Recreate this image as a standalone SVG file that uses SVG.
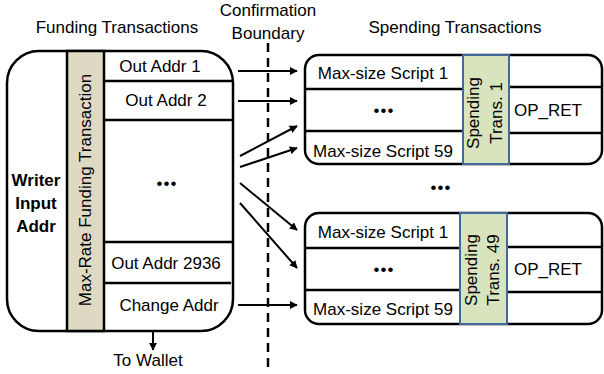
<svg xmlns="http://www.w3.org/2000/svg" width="604" height="374" viewBox="0 0 604 374">
<defs>
<style>
text{font-family:"Liberation Sans",Arial,sans-serif;font-size:17px;fill:#000;text-anchor:middle}
.b{font-weight:bold}
.d{font-size:17px;letter-spacing:1px}
.box{fill:#fff;stroke:#000;stroke-width:2.5}
.ln{stroke:#000;stroke-width:2.5;fill:none}
.arr{stroke:#000;stroke-width:2;fill:none;marker-end:url(#ah)}
.beige{fill:#ddd9c3;stroke:#000;stroke-width:2.5}
.green{fill:#d7e4bd;stroke:#41699c;stroke-width:2}
</style>
<marker id="ah" viewBox="0 0 10 10" refX="9" refY="5" markerWidth="4" markerHeight="4" orient="auto" markerUnits="strokeWidth">
<path d="M0,0 L10,5 L0,10 z" fill="#000"/>
</marker>
</defs>
<rect width="604" height="374" fill="#fff"/>
<g id="titles">
<text x="117" y="33">Funding Transactions</text>
<text x="268" y="16">Confirmation</text>
<text x="268" y="39">Boundary</text>
<text x="455" y="33">Spending Transactions</text>
<text x="441" y="193" class="d">•••</text>
</g>
<g id="funding">
<rect class="box" x="7" y="51" width="226" height="280" rx="32"/>
<rect class="beige" x="67" y="51" width="37" height="280"/>
<line class="ln" x1="104" y1="81" x2="232" y2="81"/>
<line class="ln" x1="104" y1="120" x2="232" y2="120"/>
<line class="ln" x1="104" y1="242" x2="232" y2="242"/>
<line class="ln" x1="104" y1="283" x2="231" y2="283"/>
<text x="160" y="72">Out Addr 1</text>
<text x="166" y="106">Out Addr 2</text>
<text x="167" y="189" class="d">•••</text>
<text x="166" y="269">Out Addr 2936</text>
<text x="169" y="311">Change Addr</text>
<text x="36" y="186" class="b">Writer</text>
<text x="36" y="209" class="b">Input</text>
<text x="36" y="232" class="b">Addr</text>
<text transform="translate(91,190) rotate(-90)">Max-Rate Funding Transaction</text>
</g>
<g id="spending1">
<rect class="box" x="305" y="55" width="297" height="109" rx="14"/>
<line class="ln" x1="305" y1="89" x2="463" y2="89"/>
<line class="ln" x1="305" y1="131" x2="463" y2="131"/>
<line class="ln" x1="509" y1="87" x2="602" y2="87"/>
<line class="ln" x1="509" y1="133" x2="602" y2="133"/>
<rect class="green" x="463" y="55" width="46" height="109"/>
<text x="383" y="79">Max-size Script 1</text>
<text x="384" y="116" class="d">•••</text>
<text x="383" y="157">Max-size Script 59</text>
<text x="548" y="116">OP_RET</text>
<text transform="translate(479,113) rotate(-90)">Spending</text>
<text transform="translate(502,113) rotate(-90)">Trans. 1</text>
</g>
<g id="spending49">
<rect class="box" x="305" y="213" width="297" height="111" rx="14"/>
<line class="ln" x1="305" y1="248" x2="460" y2="248"/>
<line class="ln" x1="305" y1="290" x2="460" y2="290"/>
<line class="ln" x1="507" y1="247" x2="602" y2="247"/>
<line class="ln" x1="507" y1="292" x2="602" y2="292"/>
<rect class="green" x="460" y="213" width="47" height="111"/>
<text x="383" y="238">Max-size Script 1</text>
<text x="384" y="275" class="d">•••</text>
<text x="383" y="315">Max-size Script 59</text>
<text x="548" y="275">OP_RET</text>
<text transform="translate(477,270) rotate(-90)">Spending</text>
<text transform="translate(499,270) rotate(-90)">Trans. 49</text>
</g>
<g id="connectors">
<line x1="268" y1="43" x2="268" y2="370" stroke="#000" stroke-width="2.5" stroke-dasharray="9,6"/>
<line class="arr" x1="238" y1="71" x2="297" y2="71"/>
<line class="arr" x1="238" y1="101" x2="297" y2="101"/>
<line class="arr" x1="240" y1="156" x2="297" y2="126"/>
<line class="arr" x1="240" y1="167" x2="297" y2="148"/>
<line class="arr" x1="240" y1="183" x2="297" y2="230"/>
<line class="arr" x1="240" y1="203" x2="297" y2="268"/>
<line class="arr" x1="238" y1="305" x2="297" y2="305"/>
<line class="arr" x1="153" y1="331" x2="153" y2="350"/>
<text x="148" y="366">To Wallet</text>
</g>
</svg>
